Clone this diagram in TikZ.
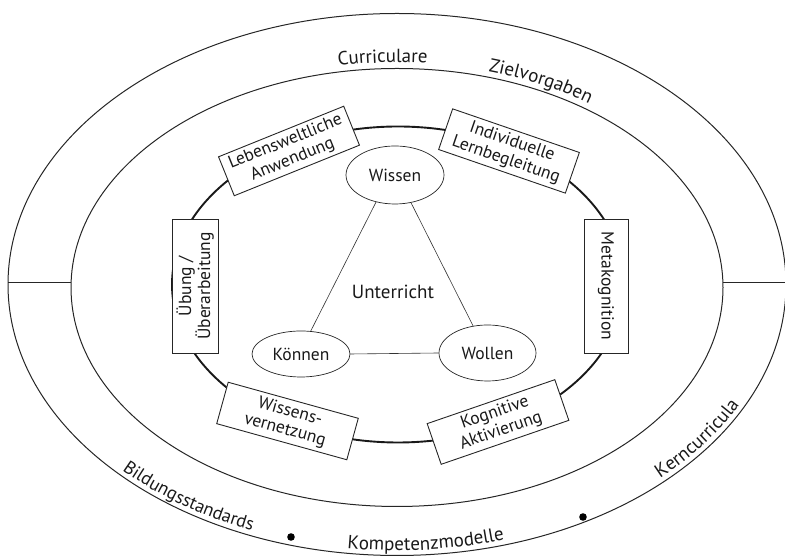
\documentclass[tikz,border=0pt]{standalone}
\usepackage{fontspec}
\setmainfont{PT Sans}
\usetikzlibrary{shapes.geometric,decorations.text}
\newcommand\bandfont{\fontsize{19}{22}\selectfont}
\newcommand\smallbandfont{\fontsize{18.3}{21}\selectfont}
\newcommand\boxfont{\fontsize{17.5}{19}\selectfont}
\newcommand\ovalfont{\fontsize{17.5}{19}\selectfont}
\begin{document}
\begin{tikzpicture}[x=1pt,y=1pt,
  ring/.style={line width=1pt, draw=black!85},
  thickring/.style={line width=1.9pt, draw=black!90},
  lbl/.style={draw=black!85, line width=0.9pt, fill=white, align=center, inner sep=0pt, font=\boxfont, text=black!90},
  oval/.style={ellipse, draw=black!85, line width=0.7pt, fill=white, inner sep=0pt, font=\ovalfont, text=black!90},
  link/.style={line width=0.6pt, draw=black!80},
  band/.style={decorate, decoration={text along path, text align=center, text={#1}}},
  dot/.style={fill=black}
]
\useasboundingbox (0,0) rectangle (785,556);
% rings
\draw[ring] (397,271.5) ellipse [x radius=389, y radius=271];
\draw[ring] (397,268.5) ellipse [x radius=326, y radius=219];
\coordinate (oL) at (8,273.5);
\coordinate (mL) at (71,273.5);
\coordinate (mR) at (723,273.5);
\coordinate (oR) at (786,273.5);
\draw[ring] (oL) -- (mL);
\draw[ring] (mR) -- (oR);
\draw[thickring] (398,271.5) ellipse [x radius=226, y radius=158];
% band texts
\path[band={|\bandfont\color{black!90}|Curriculare}] (397,268.5) ++(106:332 and 225) arc[start angle=106, end angle=79, x radius=332, y radius=225];
\path[band={|\bandfont\color{black!90}|Zielvorgaben}] (397,268.5) ++(80:332 and 225) arc[start angle=80, end angle=48, x radius=332, y radius=225];
\path[band={|\smallbandfont\color{black!90}|Bildungsstandards}] (397,271.5) ++(216.5:384 and 266) arc[start angle=216.5, end angle=254.5, x radius=384, y radius=266];
\path[band={|\bandfont\color{black!90}|Kompetenzmodelle}] (397,271.5) ++(253.5:384 and 266) arc[start angle=253.5, end angle=295.5, x radius=384, y radius=266];
\path[band={|\bandfont\color{black!90}|Kerncurricula}] (397,271.5) ++(305:384 and 266) arc[start angle=305, end angle=343, x radius=384, y radius=266];
\fill[dot] (291,19) circle[radius=3.8];
\fill[dot] (583,39) circle[radius=3.8];
% boxes
\node[lbl, minimum width=135pt, minimum height=42pt, rotate=22] (leb) at (289,405) {Lebensweltliche\\Anwendung};
\node[lbl, minimum width=134pt, minimum height=43pt, rotate=-19] (ind) at (509,405) {Individuelle\\Lernbegleitung};
\node[lbl, minimum width=134pt, minimum height=46pt, rotate=90] (ueb) at (195,270) {Übung /\\Überarbeitung};
\node[lbl, minimum width=134pt, minimum height=44pt, rotate=-90] (meta) at (606,270) {Metakognition};
\node[lbl, minimum width=135pt, minimum height=43pt, rotate=-15.5] (wiv) at (287.5,135) {Wissens-\\vernetzung};
\node[lbl, minimum width=135pt, minimum height=43pt, rotate=19] (kog) at (498,134) {Kognitive\\Aktivierung};
% triangle
\node[oval, minimum width=98pt, minimum height=58pt] (wis) at (395,381) {Wissen};
\node[oval, minimum width=98pt, minimum height=46pt] (kon) at (301,202) {Können};
\node[oval, minimum width=97pt, minimum height=56pt] (wol) at (487.5,203) {Wollen};
\draw[link] (wis.235) -- (kon.67);
\draw[link] (wis.300) -- (wol.118);
\draw[link] (kon.east) -- (wol.west);
\node[font=\bandfont, text=black!90] (unt) at (393,264) {Unterricht};
\end{tikzpicture}
\end{document}
